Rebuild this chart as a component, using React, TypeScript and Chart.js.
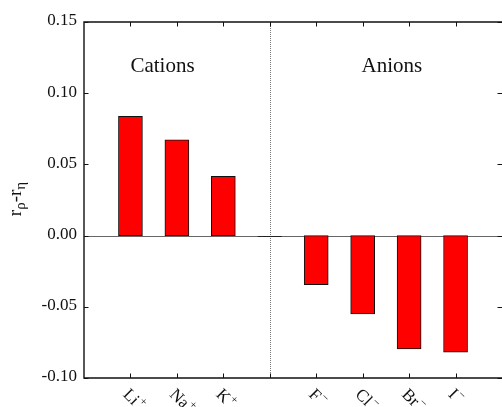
import React, { useEffect, useRef } from "react";
import { Chart, registerables } from "chart.js";

Chart.register(...registerables);

// Ions on the x axis (position 3 is the gap between the two groups)
const ionBases = ["Li", "Na", "K", "", "F", "Cl", "Br", "I"];
const ionCharges = ["+", "+", "+", "", "\u2212", "\u2212", "\u2212", "\u2212"];
const ionPositions = [0, 1, 2, 3, 4, 5, 6, 7];
// r_rho - r_eta for each ion
const diffValues = [0.0837, 0.0673, 0.0416, 0, -0.0344, -0.055, -0.0795, -0.0818];

const yTicks = [0.15, 0.1, 0.05, 0.0, -0.05, -0.1];
const xMin = -1;
const xMax = 8;
const yMin = -0.1;
const yMax = 0.15;
const dividerAt = 3;
const groupLabels = [
  { text: "Cations", x: 0.69 },
  { text: "Anions", x: 5.63 },
];

const SERIF = '"Liberation Serif", "Times New Roman", serif';

const framePlugin = {
  id: "frame",
  beforeDatasetsDraw(chart: any) {
    const { ctx, chartArea: a, scales } = chart;
    const xs = scales.x;
    const ys = scales.y;
    ctx.save();
    // zero line
    const y0 = Math.round(ys.getPixelForValue(0)) + 0.5;
    ctx.strokeStyle = "#666";
    ctx.lineWidth = 1;
    ctx.beginPath();
    ctx.moveTo(a.left, y0);
    ctx.lineTo(a.right, y0);
    ctx.stroke();
    // dotted divider between cations and anions
    const xd = Math.round(xs.getPixelForValue(dividerAt)) + 0.5;
    ctx.strokeStyle = "#777";
    ctx.setLineDash([1, 1]);
    ctx.beginPath();
    ctx.moveTo(xd, a.top);
    ctx.lineTo(xd, a.bottom);
    ctx.stroke();
    ctx.restore();
  },
  afterDatasetsDraw(chart: any) {
    const { ctx, chartArea: a, scales } = chart;
    const xs = scales.x;
    const ys = scales.y;
    ctx.save();

    // zero-valued bars appear as a short dark segment on the baseline
    const meta = chart.getDatasetMeta(0);
    meta.data.forEach((el: any, i: number) => {
      if (diffValues[i] === 0) {
        const w = el.width;
        ctx.strokeStyle = "#222";
        ctx.lineWidth = 1;
        ctx.beginPath();
        ctx.moveTo(el.x - w / 2, Math.round(el.y) + 0.5);
        ctx.lineTo(el.x + w / 2, Math.round(el.y) + 0.5);
        ctx.stroke();
      }
    });

    // frame
    ctx.strokeStyle = "#111";
    ctx.lineWidth = 1.4;
    ctx.beginPath();
    ctx.moveTo(a.right + 1, a.top);
    ctx.lineTo(a.left, a.top);
    ctx.lineTo(a.left, a.bottom);
    ctx.lineTo(a.right + 1, a.bottom);
    ctx.stroke();

    // inward ticks
    ctx.lineWidth = 1;
    const tl = 4.5;
    yTicks.forEach((v) => {
      const py = Math.round(ys.getPixelForValue(v)) + 0.5;
      ctx.beginPath();
      ctx.moveTo(a.left, py);
      ctx.lineTo(a.left + tl, py);
      ctx.moveTo(a.right, py);
      ctx.lineTo(a.right - tl, py);
      ctx.stroke();
    });
    ionPositions.forEach((p) => {
      const px = Math.round(xs.getPixelForValue(p)) + 0.5;
      ctx.beginPath();
      ctx.moveTo(px, a.bottom);
      ctx.lineTo(px, a.bottom - tl);
      ctx.moveTo(px, a.top);
      ctx.lineTo(px, a.top + tl);
      ctx.stroke();
    });

    // y tick labels
    ctx.fillStyle = "#111";
    ctx.font = `17px ${SERIF}`;
    ctx.textAlign = "right";
    ctx.textBaseline = "middle";
    yTicks.forEach((v) => {
      ctx.fillText(v.toFixed(2), a.left - 7, ys.getPixelForValue(v) - 1);
    });

    // x tick labels, rotated 45 degrees clockwise
    ionPositions.forEach((p, i) => {
      const base = ionBases[i];
      if (!base) return;
      const px = xs.getPixelForValue(p);
      ctx.save();
      ctx.translate(px + 1, a.bottom + 8);
      ctx.rotate(Math.PI / 4);
      ctx.textAlign = "left";
      ctx.textBaseline = "top";
      ctx.font = `17px ${SERIF}`;
      ctx.fillText(base, 0, 0);
      const w = ctx.measureText(base).width;
      ctx.font = `12px ${SERIF}`;
      ctx.fillText(ionCharges[i], w + 1, -3);
      ctx.restore();
    });

    // group labels
    ctx.font = `21px ${SERIF}`;
    ctx.textAlign = "center";
    ctx.textBaseline = "alphabetic";
    groupLabels.forEach((g) => {
      ctx.fillText(g.text, xs.getPixelForValue(g.x), 72);
    });

    // y axis title: r_rho - r_eta
    const parts = [
      { t: "r", sub: false },
      { t: "\u03c1", sub: true },
      { t: "-", sub: false },
      { t: "r", sub: false },
      { t: "\u03b7", sub: true },
    ];
    const mainFont = `19px ${SERIF}`;
    const subFont = `15px ${SERIF}`;
    let total = 0;
    parts.forEach((pt) => {
      ctx.font = pt.sub ? subFont : mainFont;
      total += ctx.measureText(pt.t).width;
    });
    ctx.save();
    ctx.translate(20.5, (a.top + a.bottom) / 2 - 1);
    ctx.rotate(-Math.PI / 2);
    ctx.textAlign = "left";
    ctx.textBaseline = "alphabetic";
    let cx = -total / 2;
    parts.forEach((pt) => {
      ctx.font = pt.sub ? subFont : mainFont;
      ctx.fillText(pt.t, cx, pt.sub ? 4 : 0);
      cx += ctx.measureText(pt.t).width;
    });
    ctx.restore();

    ctx.restore();
  },
};

export default function App() {
  const canvasRef = useRef<HTMLCanvasElement | null>(null);

  useEffect(() => {
    const canvas = canvasRef.current;
    if (!canvas) return;
    const chart = new Chart(canvas, {
      type: "bar",
      data: {
        datasets: [
          {
            data: ionPositions.map((p, i) => ({ x: p, y: diffValues[i] })),
            backgroundColor: "#ff0000",
            borderColor: "#111",
            borderWidth: 1,
            borderSkipped: false,
            barThickness: 24,
          },
        ],
      },
      options: {
        animation: false,
        responsive: false,
        maintainAspectRatio: false,
        devicePixelRatio: 1,
        layout: { padding: { left: 84, top: 22, right: 0, bottom: 29 } },
        plugins: {
          legend: { display: false },
          tooltip: { enabled: false },
        },
        scales: {
          x: {
            type: "linear",
            min: xMin,
            max: xMax,
            offset: false,
            grid: { offset: false },
            display: false,
          },
          y: { type: "linear", min: yMin, max: yMax, display: false },
        },
      },
      plugins: [framePlugin],
    });
    return () => chart.destroy();
  }, []);

  return (
    <div style={{ position: "absolute", left: 0, top: 0, width: 502, height: 407, background: "#fff" }}>
      <canvas ref={canvasRef} width={502} height={407} style={{ display: "block" }} />
    </div>
  );
}
